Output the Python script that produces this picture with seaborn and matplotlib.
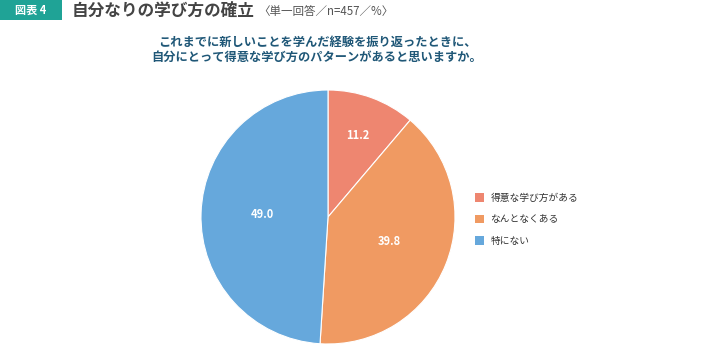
import matplotlib
matplotlib.use("Agg")
import matplotlib.pyplot as plt
import matplotlib.patches as mpatches
import numpy as np
import seaborn as sns

sns.set_theme(style="white")
plt.rcParams['font.family'] = ['Noto Sans CJK JP', 'DejaVu Sans']

# Survey answers (single answer, n=457, %)
categories = ["得意な学び方がある", "なんとなくある", "特にない"]
values = [11.2, 39.8, 49.0]
colors = ["#EE8670", "#F09A62", "#66A8DC"]

W, H = 728, 347
fig = plt.figure(figsize=(W / 100, H / 100), dpi=100)
fig.patch.set_facecolor("white")

# Pie axes: centre (328, 217) px, radius 127 px
cx, cy, r = 328, 217, 127
ax = fig.add_axes([(cx - r) / W, (H - cy - r) / H, 2 * r / W, 2 * r / H])
wedges, texts, autotexts = ax.pie(
    values, colors=colors, startangle=90, counterclock=False,
    autopct=lambda p: f"{p:.1f}", pctdistance=0.52,
    wedgeprops=dict(edgecolor="white", linewidth=0.8),
    textprops=dict(color="white", fontsize=8, fontweight="bold"),
)
# push the small slice's label further out
w0 = wedges[0]
ang = np.deg2rad((w0.theta1 + w0.theta2) / 2)
autotexts[0].set_position((0.68 * np.cos(ang), 0.68 * np.sin(ang)))
ax.set_aspect("equal")
ax.set_xlim(-1, 1)
ax.set_ylim(-1, 1)
ax.axis("off")

# Legend
handles = [mpatches.Patch(facecolor=c, edgecolor="none") for c in colors]
fig.legend(handles, categories, loc="upper left",
           bbox_to_anchor=(466 / W, 1 - 184 / H), frameon=False,
           fontsize=7, handlelength=1.0, handleheight=1.0,
           handletextpad=0.6, labelspacing=1.2, labelcolor="#333333")

# Header badge
fig.patches.append(mpatches.Rectangle((0, 1 - 20 / H), 62 / W, 20 / H,
                                      transform=fig.transFigure,
                                      facecolor="#1FA396", edgecolor="none"))
fig.text(31 / W, 1 - 10 / H, "図表 4", color="white", fontsize=8,
         fontweight="bold", ha="center", va="center")
t = fig.text(72 / W, 1 - 11 / H, "自分なりの学び方の確立", color="#444444",
             fontsize=12, fontweight="bold", va="center")
fig.canvas.draw()
bb = t.get_window_extent()
fig.text((bb.x1 + 3) / W, 1 - 11 / H, "〈単一回答／n=457／%〉", color="#555555",
         fontsize=8.3, va="center")

# Question text
fig.text(317 / W, 1 - 42 / H, "これまでに新しいことを学んだ経験を振り返ったときに、",
         color="#1F5777", fontsize=8.8, fontweight="bold", ha="center", va="center")
fig.text(317 / W, 1 - 57 / H, "自分にとって得意な学び方のパターンがあると思いますか。",
         color="#1F5777", fontsize=8.8, fontweight="bold", ha="center", va="center")

fig.savefig("out.png", dpi=100, facecolor="white")
